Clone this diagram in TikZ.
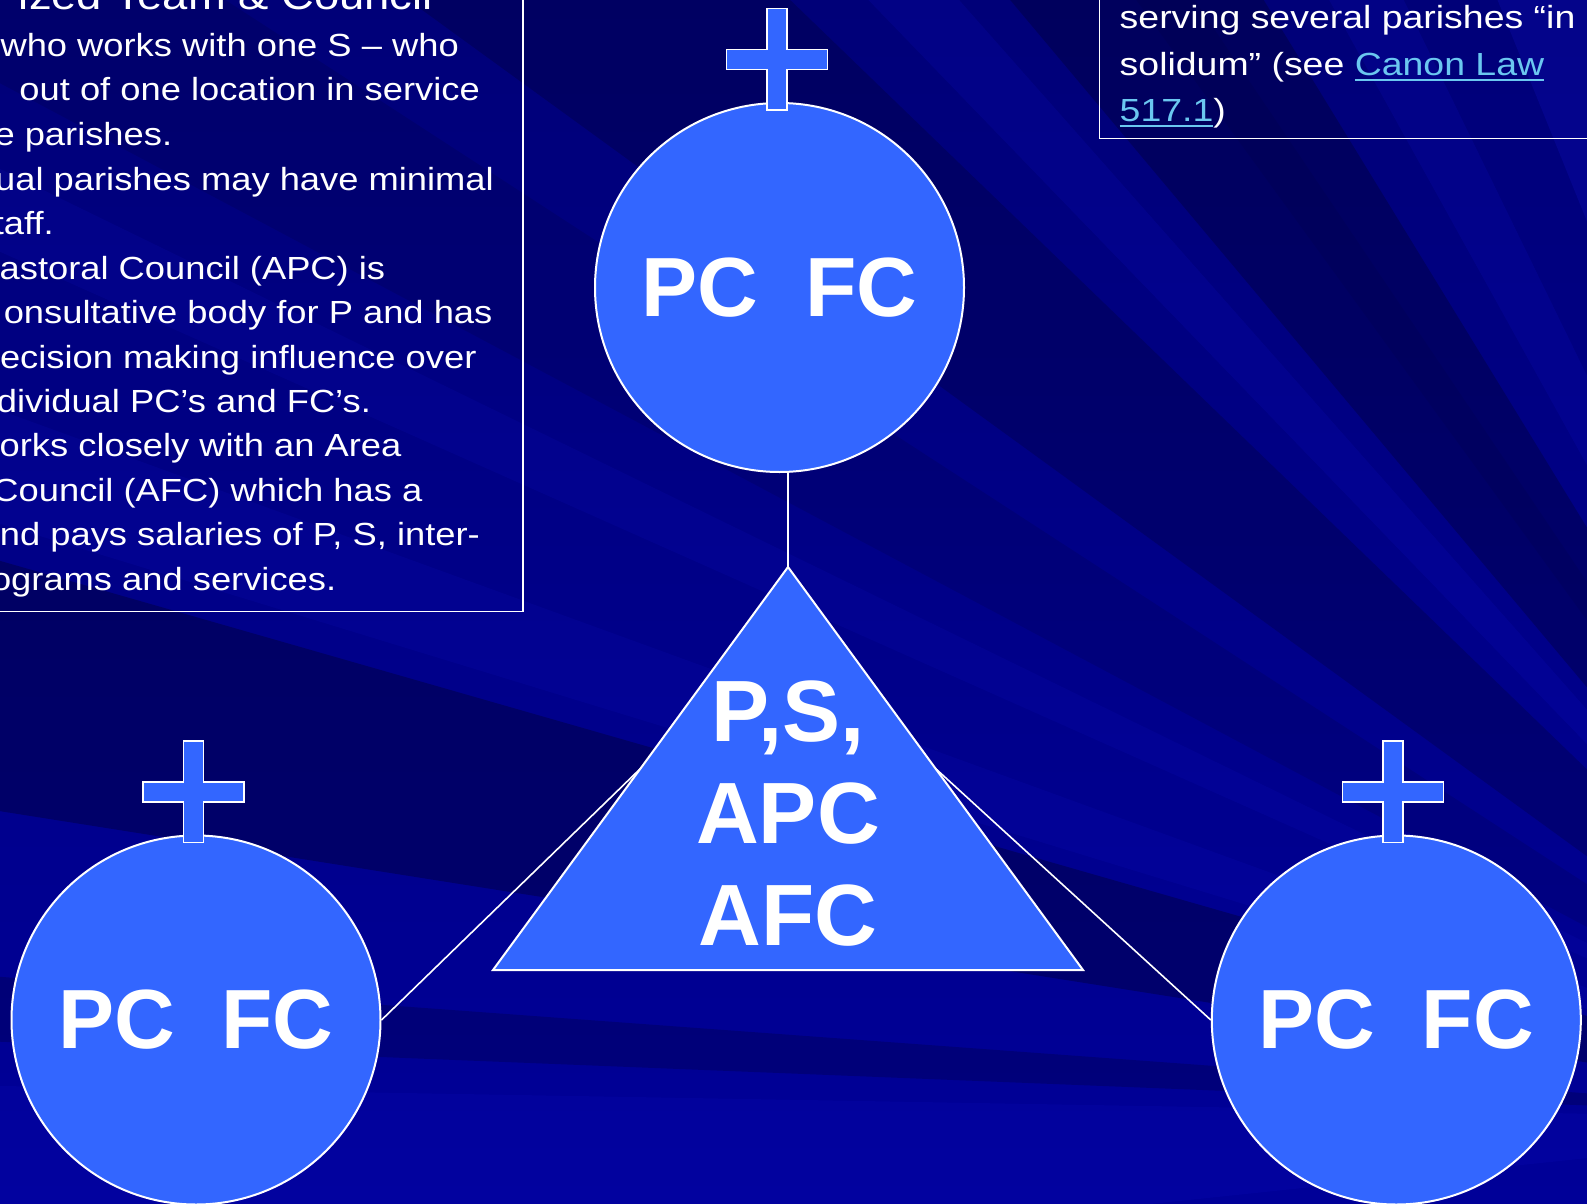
\documentclass[tikz,border=0pt]{standalone}
\usepackage{fontspec}
\setmainfont{Liberation Sans}
\newfontfamily\bodyfam{Liberation Sans}[FakeStretch=1.17]
\newfontfamily\leftfam{Liberation Sans}[FakeStretch=1.135]
\usetikzlibrary{calc}
\definecolor{bgtop}{RGB}{0,0,120}
\definecolor{bgbot}{RGB}{0,0,152}
\definecolor{nodeblue}{HTML}{3366FF}
\definecolor{linkblue}{RGB}{107,199,240}
\newcommand\bigtxt{\fontsize{87}{102}\selectfont\bfseries}
\newcommand\circtxt{\fontsize{84}{100}\selectfont\bfseries}
\newcommand\bodytxt{\bodyfam\fontsize{32}{38}\selectfont}
\newcommand\lefttxt{\leftfam\fontsize{32}{38}\selectfont}
\newcommand\titletxt{\leftfam\fontsize{40}{48}\selectfont}
\newcommand\lnk[1]{{\color{linkblue}\setbox0\hbox{#1}\rlap{\rule[-6pt]{\wd0}{2.5pt}}\box0}}
\begin{document}
\begin{tikzpicture}[x=1pt,y=-1pt,
  circ/.style={circle,draw=white,line width=2pt,fill=nodeblue,minimum size=369pt,inner sep=0pt,text=white,font=\circtxt},
  link/.style={draw=white,line width=1.6pt},
  frame/.style={draw=white,line width=1.6pt},
  trishape/.style={fill=nodeblue,draw=white,line width=2pt,line join=miter},
  body/.style={text=white,font=\bodytxt,inner sep=0pt},
  bodyR/.style={body,font=\lefttxt,anchor=base east},
  bodyL/.style={body,anchor=base west},
  bigtext/.style={text=white,font=\bigtxt,align=center,inner sep=0pt},
  darkray/.style={fill=black,fill opacity=#1},
  lightray/.style={fill={rgb,255:red,20;green,20;blue,210},fill opacity=#1},
  pics/holycross/.style={code={
    \draw[fill=nodeblue,draw=white,line width=1.5pt]
      (-10,0) -- (10,0) -- (10,41) -- (50.5,41) -- (50.5,61) -- (10,61) -- (10,101.5)
      -- (-10,101.5) -- (-10,61) -- (-50.5,61) -- (-50.5,41) -- (-10,41) -- cycle;}}
]
\useasboundingbox (0,0) rectangle (1587,1204);
\clip (0,0) rectangle (1587,1204);
% background with rays
\shade[top color=bgtop,bottom color=bgbot] (0,0) rectangle (1587,1204);
\coordinate (F) at (1950,1120);
\foreach \a/\b/\o in {182.3/184.2/0.18, 189/196/0.26, 208/213/0.1, 216/224/0.18, 230/238.5/0.22, 234/236/0.06} {
  \fill[darkray=\o] (F) -- +(\a:4000) -- +(\b:4000) -- cycle;
}
\foreach \a/\b/\o in {197/200/0.12, 204/206/0.12, 226/228.5/0.15, 241/244/0.15, 248/256/0.2, 174/181/0.12} {
  \fill[lightray=\o] (F) -- +(\a:4000) -- +(\b:4000) -- cycle;
}
% circles
\node[circ] (topc) at (779.5,287.5) {PC\ \ FC};
\node[circ] (blc) at (196,1020) {PC\ \ FC};
\node[circ] (brc) at (1396.3,1020) {PC\ \ FC};
% triangle corners
\coordinate (tA) at (788,567);
\coordinate (tL) at (493,970);
\coordinate (tR) at (1083,970);
% connectors
\draw[link] (tA) -- (tA |- topc.south);
\draw[link] (blc.east) -- ($(tA)!0.5!(tL)$);
\draw[link] (brc.west) -- ($(tA)!0.5!(tR)$);
% triangle
\draw[trishape] (tA) -- (tL) -- (tR) -- cycle;
\node[bigtext] (tri) at (788,813.5) {P,S,\\APC\\AFC};
% crosses
\pic at ($(topc.north)+(-2.5,-93.5)$) {holycross};
\pic at ($(blc.north)+(-2.5,-93.5)$) {holycross};
\pic at ($(brc.north)+(-3.5,-93.5)$) {holycross};
% text frames
\draw[frame] (-5,-5) rectangle (523,611.5);
\draw[frame] (1099.3,-5) rectangle (1595,138.5);
% left box text
\node[body,font=\titletxt,anchor=base east] (title) at (433,10) {ized Team \& Council};
\node[bodyR] (l1) at (459,56.7) {who works with one S – who};
\node[bodyR] (l2) at (480,101) {out of one location in service};
\node[bodyR] (l3) at (172.4,145.6) {e parishes.};
\node[bodyR] (l4) at (494,190) {ual parishes may have minimal};
\node[bodyR] (l5) at (54,234.5) {taff.};
\node[bodyR] (l6) at (385.4,279) {astoral Council (APC) is};
\node[bodyR] (l7) at (492.6,323.4) {onsultative body for P and has};
\node[bodyR] (l8) at (476.7,368) {ecision making influence over};
\node[bodyR] (l9) at (371.2,412.3) {dividual PC’s and FC’s.};
\node[bodyR] (l10) at (401.6,456.8) {orks closely with an Area};
\node[bodyR] (l11) at (422.6,501.2) {Council (AFC) which has a};
\node[bodyR] (l12) at (480,545.7) {nd pays salaries of P, S, inter-};
\node[bodyR] (l13) at (336.4,590) {ograms and services.};
% right box text
\node[bodyL] (r1) at (1119.5,28.5) {serving several parishes “in};
\node[bodyL] (r2) at (1119.5,75.5) {solidum” (see \lnk{Canon Law}};
\node[bodyL] (r3) at (1119.5,121.5) {\lnk{517.1})};
\end{tikzpicture}
\end{document}
